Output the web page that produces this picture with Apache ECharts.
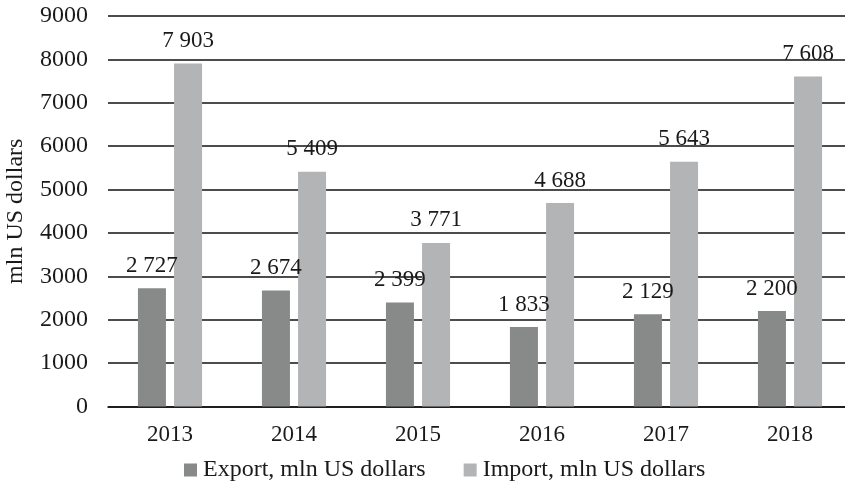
<!DOCTYPE html>
<html><head><meta charset="utf-8">
<script src="https://cdn.jsdelivr.net/npm/echarts@6/dist/echarts.min.js"></script>
<style>html,body{margin:0;padding:0;background:#fff}#c{width:845px;height:483px}</style>
</head><body><div id="c"></div>
<script>
var categories = ['2013','2014','2015','2016','2017','2018'];
var exportValues = [2727, 2674, 2399, 1833, 2129, 2200];
var importValues = [7903, 5409, 3771, 4688, 5643, 7608];
var seriesNames = ['Export, mln US dollars', 'Import, mln US dollars'];
var yTicks = {min: 0, max: 9000, interval: 1000};

var font = '"Liberation Serif", "Times New Roman", serif';
function fmt(p){ return String(p.value).replace(/\B(?=(\d{3})+(?!\d))/g, ' '); }
var chart = echarts.init(document.getElementById('c'));
chart.setOption({
  animation: false,
  textStyle: {fontFamily: font},
  grid: {left: 108, width: 744, top: 16, height: 390.5, containLabel: false, outerBoundsMode: 'none'},
  legend: {
    top: 453, left: 179, itemWidth: 13, itemHeight: 13, itemGap: 38, icon: 'rect',
    textStyle: {fontFamily: font, fontSize: 24, color: '#1a1a1a', padding: [0, 0, 0, 1]},
    data: seriesNames
  },
  xAxis: {
    type: 'category', data: categories,
    axisLine: {show: true, lineStyle: {color: '#111', width: 1.5}},
    axisTick: {show: false},
    axisLabel: {fontFamily: font, fontSize: 23, color: '#1a1a1a', margin: 17}
  },
  yAxis: {
    type: 'value', min: yTicks.min, max: yTicks.max, interval: yTicks.interval,
    name: 'mln US dollars', nameLocation: 'middle', nameGap: 80, nameRotate: 90,
    nameTextStyle: {fontFamily: font, fontSize: 24, color: '#1a1a1a'},
    axisLine: {show: false}, axisTick: {show: false},
    axisLabel: {fontFamily: font, fontSize: 24, color: '#1a1a1a', margin: 20, formatter: function(v){ return String(v); }},
    splitLine: {lineStyle: {color: '#111', width: 1.5}}
  },
  series: [
    {name: seriesNames[0], type: 'bar', data: exportValues, barWidth: 28, barGap: '29%',
     itemStyle: {color: '#878a89'},
     label: {show: true, position: 'top', distance: 11, formatter: fmt, fontFamily: font, fontSize: 23, color: '#1a1a1a'}},
    {name: seriesNames[1], type: 'bar', data: importValues, barWidth: 28,
     itemStyle: {color: '#b3b4b5'},
     label: {show: true, position: 'top', distance: 11, formatter: fmt, fontFamily: font, fontSize: 23, color: '#1a1a1a'}}
  ]
});
</script></body></html>
